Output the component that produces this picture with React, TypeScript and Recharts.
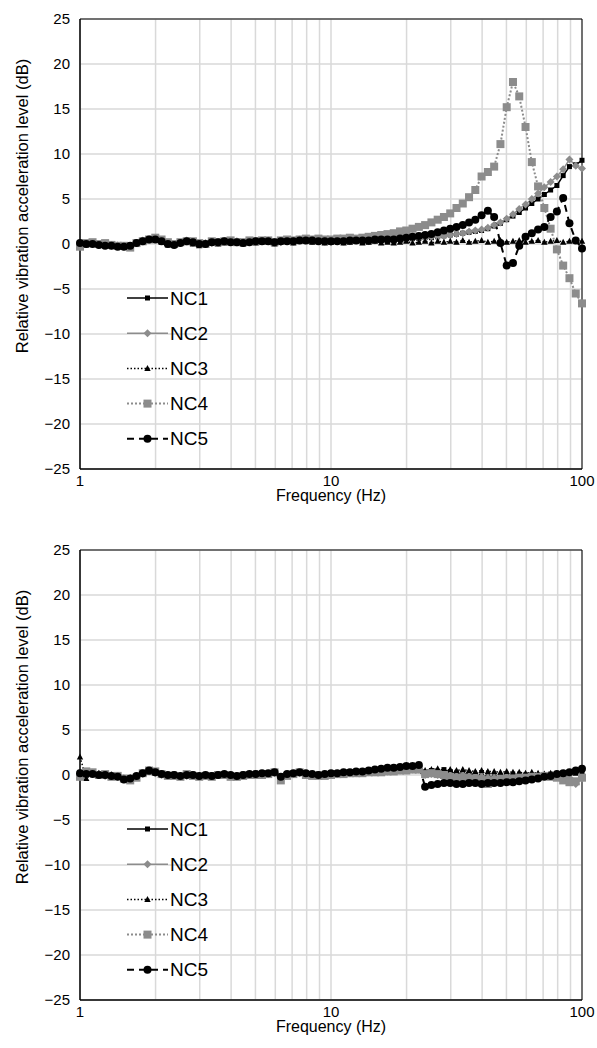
import { LineChart, Line, XAxis, YAxis, CartesianGrid, ReferenceArea, Label } from 'recharts'

const freqs = [
  1, 1.059, 1.122, 1.189, 1.259, 1.334, 1.413, 1.496, 1.585, 1.679,
  1.778, 1.884, 1.995, 2.113, 2.239, 2.371, 2.512, 2.661, 2.818, 2.985,
  3.162, 3.35, 3.548, 3.758, 3.981, 4.217, 4.467, 4.732, 5.012, 5.309,
  5.623, 5.957, 6.31, 6.683, 7.079, 7.499, 7.943, 8.414, 8.913, 9.441,
  10, 10.59, 11.22, 11.89, 12.59, 13.34, 14.13, 14.96, 15.85, 16.79,
  17.78, 18.84, 19.95, 21.13, 22.39, 23.71, 25.12, 26.61, 28.18, 29.85,
  31.62, 33.5, 35.48, 37.58, 39.81, 42.17, 44.67, 47.32, 50.12, 53.09,
  56.23, 59.57, 63.1, 66.83, 70.79, 74.99, 79.43, 84.14, 89.13, 94.41, 100,
]

const xTicks = [1, 2, 3, 4, 5, 6, 7, 8, 9, 10, 20, 30, 40, 50, 60, 70, 80, 90, 100]
const xLabels = [1, 10, 100]
const yTicks = [-25, -20, -15, -10, -5, 0, 5, 10, 15, 20, 25]
const seriesNames = ['NC1', 'NC2', 'NC3', 'NC4', 'NC5']

// upper chart
const topNC1 = [
  0.1, 0.1, 0.0, -0.1, -0.1, -0.2, -0.3, -0.3, -0.2, 0.0,
  0.3, 0.6, 0.5, 0.3, 0.0, -0.1, 0.2, 0.3, 0.1, -0.1,
  0.0, 0.2, 0.1, 0.2, 0.3, 0.2, 0.1, 0.3, 0.2, 0.4,
  0.3, 0.1, 0.3, 0.4, 0.2, 0.4, 0.5, 0.3, 0.4, 0.2,
  0.3, 0.4, 0.3, 0.4, 0.4, 0.3, 0.4, 0.4, 0.4, 0.5,
  0.5, 0.5, 0.6, 0.6, 0.6, 0.7, 0.7, 0.8, 0.9, 1.0,
  1.1, 1.2, 1.3, 1.4, 1.5, 1.7, 2.0, 2.3, 2.7, 3.1,
  3.5, 4.0, 4.5, 5.0, 5.5, 6.0, 6.5, 7.6, 8.6, 8.8, 9.3,
]
const topNC2 = [
  -0.2, 0.0, 0.1, -0.1, 0.0, -0.2, -0.2, -0.3, -0.3, 0.1,
  0.4, 0.5, 0.6, 0.4, 0.1, 0.0, 0.1, 0.4, 0.2, 0.0,
  0.1, 0.1, 0.2, 0.3, 0.2, 0.3, 0.2, 0.2, 0.3, 0.3,
  0.4, 0.2, 0.2, 0.3, 0.3, 0.5, 0.4, 0.4, 0.5, 0.3,
  0.2, 0.3, 0.4, 0.3, 0.5, 0.4, 0.3, 0.4, 0.5, 0.5,
  0.4, 0.5, 0.6, 0.6, 0.7, 0.7, 0.8, 0.8, 0.9, 1.0,
  1.1, 1.2, 1.4, 1.5, 1.6, 1.8, 2.1, 2.4, 2.8, 3.3,
  3.9, 4.4, 5.0, 5.6, 6.3, 6.9, 7.5, 8.3, 9.4, 8.7, 8.4,
]
const topNC3 = [
  0.0, -0.1, 0.1, 0.0, -0.1, -0.2, -0.1, -0.3, -0.2, 0.0,
  0.2, 0.4, 0.4, 0.2, -0.1, 0.0, 0.1, 0.2, 0.0, -0.2,
  -0.1, 0.1, 0.0, 0.1, 0.2, 0.1, 0.0, 0.2, 0.1, 0.2,
  0.2, 0.0, 0.2, 0.3, 0.1, 0.3, 0.3, 0.2, 0.3, 0.1,
  0.2, 0.3, 0.1, 0.2, 0.3, 0.1, 0.2, 0.3, 0.1, 0.2,
  0.1, 0.2, 0.3, 0.1, 0.2, 0.3, 0.1, 0.3, 0.2, 0.3,
  0.2, 0.4, 0.2, 0.3, 0.4, 0.2, 0.3, 0.4, 0.2, 0.3,
  0.4, 0.2, 0.3, 0.4, 0.2, 0.3, 0.4, 0.2, 0.3, 0.4, 0.3,
]
const topNC4 = [
  -0.3, 0.1, 0.2, 0.0, 0.1, -0.1, -0.2, -0.2, -0.4, 0.1,
  0.3, 0.5, 0.7, 0.5, 0.2, 0.0, 0.2, 0.3, 0.3, 0.1,
  0.0, 0.3, 0.2, 0.3, 0.4, 0.2, 0.2, 0.4, 0.3, 0.4,
  0.4, 0.2, 0.4, 0.5, 0.4, 0.5, 0.6, 0.5, 0.6, 0.5,
  0.5, 0.6, 0.6, 0.7, 0.6, 0.7, 0.8, 0.9, 1.0, 1.1,
  1.2, 1.4, 1.5, 1.7, 1.9, 2.1, 2.4, 2.7, 3.0, 3.4,
  4.0, 4.5, 5.2, 6.0, 7.5, 8.0, 8.6, 11.1, 15.2, 18.0,
  16.4, 13.0, 9.1, 6.4, 4.0, 1.7, -0.6, -2.4, -3.8, -5.5, -6.6,
]
const topNC5 = [
  0.1, 0.0, 0.0, -0.1, -0.2, -0.2, -0.3, -0.3, -0.2, 0.1,
  0.3, 0.5, 0.5, 0.3, 0.0, -0.1, 0.1, 0.3, 0.2, 0.0,
  0.0, 0.2, 0.2, 0.3, 0.2, 0.2, 0.1, 0.2, 0.3, 0.3,
  0.3, 0.2, 0.3, 0.3, 0.3, 0.4, 0.4, 0.4, 0.3, 0.3,
  0.3, 0.3, 0.3, 0.4, 0.4, 0.4, 0.4, 0.5, 0.5, 0.5,
  0.5, 0.6, 0.7, 0.8, 0.9, 1.0, 1.1, 1.3, 1.5, 1.7,
  1.9, 2.1, 2.4, 2.7, 3.2, 3.7, 3.0, 0.1, -2.4, -2.1,
  -0.2, 0.8, 1.2, 1.6, 1.9, 3.0, 3.6, 5.1, 2.3, 0.4, -0.5,
]

// lower chart
const botNC1 = [
  0.3, 0.2, 0.1, 0.0, 0.1, -0.1, -0.2, -0.4, -0.4, -0.1,
  0.2, 0.4, 0.3, 0.1, 0.0, 0.1, -0.1, 0.0, 0.1, -0.1,
  0.0, 0.0, 0.1, 0.1, 0.0, -0.1, 0.1, 0.1, 0.2, 0.2,
  0.2, 0.3, -0.1, 0.1, 0.2, 0.3, 0.2, 0.1, 0.1, 0.1,
  0.2, 0.2, 0.2, 0.3, 0.3, 0.3, 0.4, 0.4, 0.5, 0.6,
  0.7, 0.8, 0.9, 0.9, 1.0, 0.3, 0.5, 0.4, 0.6, 0.3,
  0.2, 0.1, 0.1, 0.0, -0.1, -0.2, -0.2, -0.2, -0.1, -0.1,
  -0.1, 0.0, 0.0, -0.1, 0.0, 0.1, 0.1, 0.2, 0.3, 0.3, 0.5,
]
const botNC2 = [
  0.0, 0.3, 0.2, 0.1, -0.1, 0.0, -0.2, -0.5, -0.5, -0.2,
  0.1, 0.4, 0.2, 0.0, -0.1, 0.0, -0.2, -0.1, 0.0, -0.2,
  -0.1, -0.1, 0.0, 0.0, -0.1, -0.2, 0.0, 0.0, 0.1, 0.1,
  0.1, 0.2, -0.3, 0.0, 0.1, 0.2, 0.1, 0.0, -0.1, 0.0,
  0.1, 0.1, 0.2, 0.2, 0.2, 0.3, 0.3, 0.3, 0.4, 0.4,
  0.5, 0.5, 0.6, 0.6, 0.6, 0.0, 0.1, 0.0, 0.1, 0.0,
  -0.1, 0.0, -0.1, -0.1, -0.2, -0.3, -0.3, -0.2, -0.2, -0.1,
  -0.2, -0.1, -0.1, 0.0, -0.1, 0.0, 0.1, 0.0, -0.3, -1.0, -0.4,
]
const botNC3 = [
  2.0, -0.4, 0.3, 0.2, 0.0, 0.0, -0.1, -0.3, -0.3, -0.1,
  0.1, 0.3, 0.2, 0.0, -0.1, -0.1, -0.1, 0.0, -0.1, -0.1,
  0.0, -0.1, 0.0, 0.0, 0.0, -0.1, 0.0, 0.1, 0.1, 0.1,
  0.1, 0.2, -0.2, 0.0, 0.1, 0.2, 0.1, 0.0, 0.0, 0.1,
  0.1, 0.2, 0.2, 0.2, 0.3, 0.3, 0.3, 0.4, 0.4, 0.5,
  0.5, 0.6, 0.6, 0.7, 0.8, 0.5, 0.6, 0.7, 0.5, 0.6,
  0.5, 0.6, 0.5, 0.4, 0.5, 0.4, 0.4, 0.3, 0.4, 0.3,
  0.3, 0.2, 0.3, 0.2, 0.1, 0.2, 0.1, 0.2, 0.3, 0.2, 0.3,
]
const botNC4 = [
  -0.2, 0.4, 0.3, 0.0, 0.1, -0.2, -0.1, -0.4, -0.6, -0.3,
  0.2, 0.5, 0.4, 0.1, -0.1, -0.1, -0.2, 0.1, -0.1, -0.2,
  -0.1, -0.2, 0.0, 0.0, -0.2, -0.2, -0.1, 0.0, 0.0, 0.0,
  0.1, 0.3, -0.6, -0.1, 0.1, 0.3, 0.0, -0.1, -0.1, -0.1,
  0.0, 0.1, 0.1, 0.2, 0.2, 0.2, 0.3, 0.3, 0.3, 0.4,
  0.4, 0.5, 0.5, 0.6, 0.6, 0.1, 0.2, 0.1, 0.0, -0.2,
  -0.3, -0.3, -0.4, -0.5, -0.6, -1.0, -0.6, -0.5, -0.4, -0.4,
  -0.3, -0.3, -0.2, -0.2, -0.1, -0.2, -0.3, -0.6, -0.8, -0.7, -0.3,
]
const botNC5 = [
  0.2, 0.1, 0.1, 0.0, 0.0, -0.1, -0.2, -0.5, -0.4, -0.1,
  0.2, 0.5, 0.3, 0.1, 0.0, 0.0, -0.1, 0.0, 0.0, -0.1,
  0.0, -0.1, 0.0, 0.1, 0.0, -0.1, 0.0, 0.1, 0.1, 0.2,
  0.2, 0.3, -0.2, 0.1, 0.2, 0.3, 0.2, 0.1, 0.0, 0.1,
  0.2, 0.2, 0.3, 0.3, 0.4, 0.4, 0.5, 0.6, 0.7, 0.8,
  0.8, 0.9, 1.0, 1.0, 1.1, -1.3, -1.1, -1.0, -0.9, -0.9,
  -1.0, -1.0, -0.9, -0.9, -1.0, -0.9, -0.9, -0.9, -0.8, -0.8,
  -0.7, -0.6, -0.5, -0.4, -0.2, -0.1, 0.1, 0.2, 0.3, 0.5, 0.7,
]

const FONT = '"Liberation Sans", Arial, sans-serif'
const GRAY = '#8c8c8c'
const W = 597
const H = 524

type Shape = 'sq' | 'diamond' | 'tri' | 'bigsq' | 'circle'

const looks: Record<string, { color: string; width: number; dash?: string; shape: Shape }> = {
  NC1: { color: '#000', width: 1.5, shape: 'sq' },
  NC2: { color: GRAY, width: 1.5, shape: 'diamond' },
  NC3: { color: '#000', width: 1.5, dash: '1.5 2', shape: 'tri' },
  NC4: { color: GRAY, width: 2, dash: '2 2', shape: 'bigsq' },
  NC5: { color: '#000', width: 2, dash: '7 5', shape: 'circle' },
}

function marker(shape: Shape, color: string, cx: number, cy: number, key?: string | number) {
  switch (shape) {
    case 'sq':
      return <rect key={key} x={cx - 2.5} y={cy - 2.5} width={5} height={5} fill={color} />
    case 'diamond':
      return <path key={key} d={`M${cx},${cy - 4}L${cx + 4},${cy}L${cx},${cy + 4}L${cx - 4},${cy}Z`} fill={color} />
    case 'tri':
      return <path key={key} d={`M${cx},${cy - 3.5}L${cx + 3.2},${cy + 2.5}L${cx - 3.2},${cy + 2.5}Z`} fill={color} />
    case 'bigsq':
      return <rect key={key} x={cx - 4} y={cy - 4} width={8} height={8} fill={color} />
    default:
      return <circle key={key} cx={cx} cy={cy} r={4} fill={color} />
  }
}

function dotFor(name: string) {
  const l = looks[name]
  return (p: any) => {
    if (p.cx == null || p.cy == null) return <g key={`${name}-${p.index}`} />
    return marker(l.shape, l.color, p.cx, p.cy, `${name}-${p.index}`)
  }
}

const minus = (v: number) => String(v).replace('-', '\u2212')

function Panel({ series, top, xh }: { series: number[][]; top: number; xh: number }) {
  const rows = freqs.map((f, i) => {
    const r: Record<string, number> = { f }
    seriesNames.forEach((n, k) => { r[n] = series[k][i] })
    return r
  })
  const plotTop = top
  const legY = plotTop + 279
  return (
    <div style={{ position: 'relative', width: W, height: H }}>
      <LineChart width={W} height={H} data={rows} margin={{ top, right: 15, bottom: 0, left: 0 }}>
        <CartesianGrid stroke="#d9d9d9" strokeWidth={1.5} />
        <XAxis
          dataKey="f"
          type="number"
          scale="log"
          domain={[1, 100]}
          ticks={xTicks}
          interval={0}
          height={xh}
          tickLine={false}
          axisLine={{ stroke: '#000' }}
          tickMargin={0}
          tick={{ fill: '#000', fontSize: 15, fontFamily: FONT }}
          tickFormatter={(v: number) => (xLabels.includes(v) ? String(v) : '')}
        >
          <Label
            content={() => (
              <text x={331} y={plotTop + 450 + 32} textAnchor="middle" fontSize={16} fontFamily={FONT} fill="#000">
                Frequency (Hz)
              </text>
            )}
          />
        </XAxis>
        <YAxis
          type="number"
          domain={[-25, 25]}
          ticks={yTicks}
          interval={0}
          width={80}
          tickLine={false}
          axisLine={{ stroke: '#000' }}
          tickMargin={4}
          tick={{ fill: '#000', fontSize: 15, fontFamily: FONT }}
          tickFormatter={minus}
        >
          <Label
            content={() => (
              <text
                x={22}
                y={plotTop + 187}
                transform={`rotate(-90 22 ${plotTop + 187})`}
                textAnchor="middle"
                dominantBaseline="central"
                fontSize={16.5}
                fontFamily={FONT}
                fill="#000"
              >
                Relative vibration acceleration level (dB)
              </text>
            )}
          />
        </YAxis>
        <ReferenceArea x1={1} x2={100} y1={-25} y2={25} fill="none" stroke="#000" strokeWidth={1} />
        {seriesNames.map((n) => (
          <Line
            key={n}
            dataKey={n}
            type="linear"
            stroke={looks[n].color}
            strokeWidth={looks[n].width}
            strokeDasharray={looks[n].dash}
            dot={dotFor(n)}
            activeDot={false}
            isAnimationActive={false}
          />
        ))}
      </LineChart>
      <svg width={W} height={H} style={{ position: 'absolute', left: 0, top: 0, pointerEvents: 'none' }}>
        {seriesNames.map((n, k) => {
          const y = legY + k * 35.2
          const l = looks[n]
          return (
            <g key={n}>
              <line x1={127} x2={168} y1={y} y2={y} stroke={l.color} strokeWidth={l.width} strokeDasharray={l.dash} />
              {marker(l.shape, l.color, 147.5, y)}
              <text x={170} y={y} dominantBaseline="central" fontSize={19} fontFamily={FONT} fill="#000">
                {n}
              </text>
            </g>
          )
        })}
      </svg>
    </div>
  )
}

export default function App() {
  return (
    <div style={{ position: 'absolute', left: 0, top: 0, width: W, height: 1048, background: '#fff' }}>
      <Panel series={[topNC1, topNC2, topNC3, topNC4, topNC5]} top={19} xh={55} />
      <Panel series={[botNC1, botNC2, botNC3, botNC4, botNC5]} top={26} xh={48} />
    </div>
  )
}
